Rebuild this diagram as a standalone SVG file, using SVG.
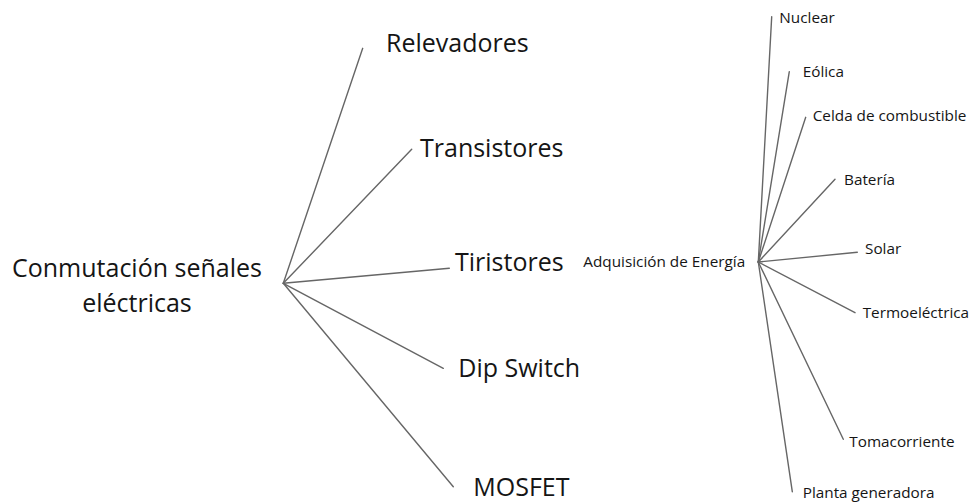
<svg xmlns="http://www.w3.org/2000/svg" width="972" height="503" viewBox="0 0 972 503">
<style>
.big{font-family:"Open Sans","Noto Sans","Liberation Sans",sans-serif;font-size:25px;fill:#151515}
.small{font-family:"Open Sans","Noto Sans","Liberation Sans",sans-serif;font-size:15.3px;fill:#151515}
.con line{stroke:#666666;stroke-width:1.4;stroke-linecap:round}
</style>
<rect width="972" height="503" fill="#ffffff"/>
<g id="connectors" class="con">
<line x1="283.3" y1="283.3" x2="362.7" y2="48.3"/>
<line x1="283.3" y1="283.3" x2="411.7" y2="149.3"/>
<line x1="283.3" y1="283.3" x2="449.3" y2="268.3"/>
<line x1="283.3" y1="283.3" x2="443.3" y2="368.3"/>
<line x1="283.3" y1="283.3" x2="453.3" y2="486.7"/>
<line x1="758.3" y1="262" x2="771.7" y2="16.7"/>
<line x1="758.3" y1="262" x2="789.3" y2="71.7"/>
<line x1="758.3" y1="262" x2="805.7" y2="117.3"/>
<line x1="758.3" y1="262" x2="835" y2="179.3"/>
<line x1="758.3" y1="262" x2="857.3" y2="252.3"/>
<line x1="758.3" y1="262" x2="855" y2="312.7"/>
<line x1="758.3" y1="262" x2="843.3" y2="439.3"/>
<line x1="758.3" y1="262" x2="792.3" y2="491.7"/>
</g>
<g id="n-conmutacion"><text class="big" x="137" y="276.7" text-anchor="middle">Conmutación señales</text><text class="big" x="137" y="311.7" text-anchor="middle">eléctricas</text></g>
<g id="n-relevadores"><text class="big" x="386" y="51.7">Relevadores</text></g>
<g id="n-transistores"><text class="big" x="420" y="157.3">Transistores</text></g>
<g id="n-tiristores"><text class="big" x="455" y="270.7">Tiristores</text></g>
<g id="n-dipswitch"><text class="big" x="458.3" y="376.7">Dip Switch</text></g>
<g id="n-mosfet"><text class="big" x="473.3" y="495.7">MOSFET</text></g>
<g id="n-adquisicion"><text class="small" x="583.3" y="266.7">Adquisición de Energía</text></g>
<g id="n-nuclear"><text class="small" x="779.3" y="22.7">Nuclear</text></g>
<g id="n-eolica"><text class="small" x="802.7" y="76.7">Eólica</text></g>
<g id="n-celda"><text class="small" x="812.7" y="120.7">Celda de combustible</text></g>
<g id="n-bateria"><text class="small" x="844" y="185">Batería</text></g>
<g id="n-solar"><text class="small" x="865" y="254">Solar</text></g>
<g id="n-termoelectrica"><text class="small" x="862.7" y="318.3">Termoeléctrica</text></g>
<g id="n-tomacorriente"><text class="small" x="849.3" y="446.7">Tomacorriente</text></g>
<g id="n-planta"><text class="small" x="802.7" y="498.3">Planta generadora</text></g>
</svg>
